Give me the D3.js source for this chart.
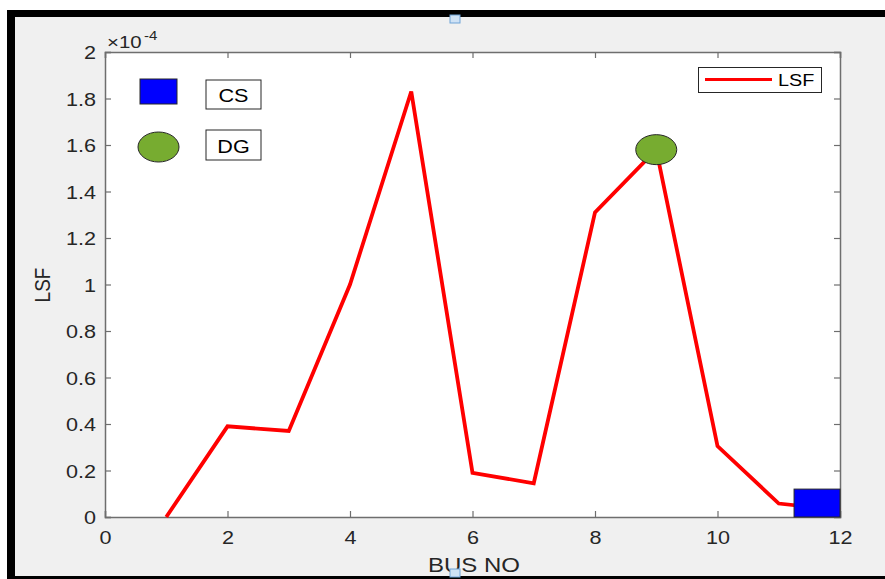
<!DOCTYPE html>
<html><head><meta charset="utf-8">
<script src="https://cdn.jsdelivr.net/npm/d3@7"></script>
<style>body{margin:0;background:#fff}svg{display:block}text{font-family:"Liberation Sans",Arial,sans-serif}</style>
</head><body>
<svg id="c" width="885" height="579"></svg>
<script>
const busNo = [1,2,3,4,5,6,7,8,9,10,11,12];
const lsf = [0,0.39,0.37,1.0,1.83,0.19,0.145,1.31,1.58,0.305,0.058,0.03];
const xTicks = [0,2,4,6,8,10,12];
const yTicks = [0,0.2,0.4,0.6,0.8,1,1.2,1.4,1.6,1.8,2];
const dgBus = [9], dgVal = [1.58];
const csBus = [11.25], csBusEnd = [12], csVal = [0.12];

const SX = 1.2;
const svg = d3.select("#c");
svg.append("rect").attr("x",0).attr("y",0).attr("width",885).attr("height",579).attr("fill","#fff");
svg.append("rect").attr("x",15).attr("y",17).attr("width",870).attr("height",559).attr("fill","#f0f0f0");
svg.append("rect").attr("x",7).attr("y",10).attr("width",878).attr("height",7).attr("fill","#000");
svg.append("rect").attr("x",7).attr("y",10).attr("width",8).attr("height",569).attr("fill","#000");
svg.append("rect").attr("x",7).attr("y",576).attr("width",878).attr("height",3).attr("fill","#000");

const L=105,R=840,T=52,B=517;
const x = d3.scaleLinear().domain([0,12]).range([L,R]);
const y = d3.scaleLinear().domain([0,2]).range([B,T]);

svg.append("rect").attr("x",L).attr("y",T).attr("width",R-L).attr("height",B-T).attr("fill","#fff");

const axCol="#262626";
const fmt = d=>d3.format("")(+d.toFixed(1));
const gx = svg.append("g").attr("transform",`translate(0,${B})`).call(d3.axisBottom(x).tickValues(xTicks).tickSize(-6).tickFormat(d3.format("d")));
const gxt = svg.append("g").attr("transform",`translate(0,${T})`).call(d3.axisTop(x).tickValues(xTicks).tickSize(-6).tickFormat(""));
const gy = svg.append("g").attr("transform",`translate(${L},0)`).call(d3.axisLeft(y).tickValues(yTicks).tickSize(-6).tickFormat(fmt));
const gyr = svg.append("g").attr("transform",`translate(${R},0)`).call(d3.axisRight(y).tickValues(yTicks).tickSize(-6).tickFormat(""));
[gx,gxt,gy,gyr].forEach(g=>{
  g.selectAll(".domain").attr("stroke","#6e6e6e").attr("stroke-width",1.5);
  g.selectAll(".tick line").attr("stroke","#6e6e6e").attr("stroke-width",1.2);
  g.selectAll("text").attr("fill",axCol).style("font-size","18px").style("font-family","Liberation Sans, Arial, sans-serif");
});
gx.selectAll(".tick text").attr("x",null).attr("y",null).attr("dy",null).attr("transform",`translate(0,27) scale(${SX},1)`);
gy.selectAll(".tick text").attr("x",null).attr("y",null).attr("dy",null).attr("transform",`translate(-9,6.5) scale(${SX},1)`);

function txt(px,py,s,size,anchor,col){
  return svg.append("text").attr("transform",`translate(${px},${py}) scale(${SX},1)`)
    .attr("text-anchor",anchor||"start").attr("fill",col||axCol).style("font-size",size+"px").text(s);
}
// exponent
txt(107,48,"\u00d710",17,"start");
txt(144,40,"-4",12.5,"start");

// labels
txt(474,572,"BUS NO",20,"middle");
svg.append("text").attr("transform",`translate(50,285) scale(${SX},1) rotate(-90)`).attr("text-anchor","middle").attr("fill",axCol).style("font-size","19px").text("LSF");

// line
svg.append("path").datum(busNo.map((b,i)=>[b,lsf[i]]))
  .attr("d",d3.line().x(d=>x(d[0])).y(d=>y(d[1])))
  .attr("fill","none").attr("stroke","#ff0000").attr("stroke-width",3.8).attr("stroke-linejoin","miter");

// DG ellipse
svg.selectAll(".dg").data(dgBus).join("ellipse").attr("cx",d=>x(d)).attr("cy",(d,i)=>y(dgVal[i]))
  .attr("rx",20.5).attr("ry",15).attr("fill","#77ac30").attr("stroke","#262626").attr("stroke-width",1);
// CS rectangle
svg.selectAll(".cs").data(csBus).join("rect").attr("x",d=>x(d)).attr("y",(d,i)=>y(csVal[i]))
  .attr("width",(d,i)=>x(csBusEnd[i])-x(d)).attr("height",(d,i)=>y(0)-y(csVal[i]))
  .attr("fill","#0000ff").attr("stroke","#262626").attr("stroke-width",1);

// annotation legend
svg.append("rect").attr("x",140).attr("y",79).attr("width",37).attr("height",25).attr("fill","#0000ff").attr("stroke","#262626");
svg.append("rect").attr("x",206).attr("y",80).attr("width",55).attr("height",29).attr("fill","#fff").attr("stroke","#262626");
txt(233.5,102,"CS",18,"middle","#000");
svg.append("ellipse").attr("cx",158.5).attr("cy",147).attr("rx",20.5).attr("ry",15).attr("fill","#77ac30").attr("stroke","#262626");
svg.append("rect").attr("x",206).attr("y",130).attr("width",55).attr("height",30).attr("fill","#fff").attr("stroke","#262626");
txt(233.5,153,"DG",18,"middle","#000");

// LSF legend
svg.append("rect").attr("x",698.5).attr("y",67.5).attr("width",123).attr("height",25).attr("fill","#fff").attr("stroke","#262626");
svg.append("line").attr("x1",705).attr("x2",772).attr("y1",79.5).attr("y2",79.5).attr("stroke","#ff0000").attr("stroke-width",3);
txt(778,86,"LSF",16.5,"start","#000");

// selection handles
[[455,19],[455,573]].forEach(p=>svg.append("rect").attr("x",p[0]-5).attr("y",p[1]-4).attr("width",10).attr("height",8)
  .attr("fill","#cfe2f5").attr("stroke","#6fa3d6").attr("stroke-width",1));
</script>
</body></html>
